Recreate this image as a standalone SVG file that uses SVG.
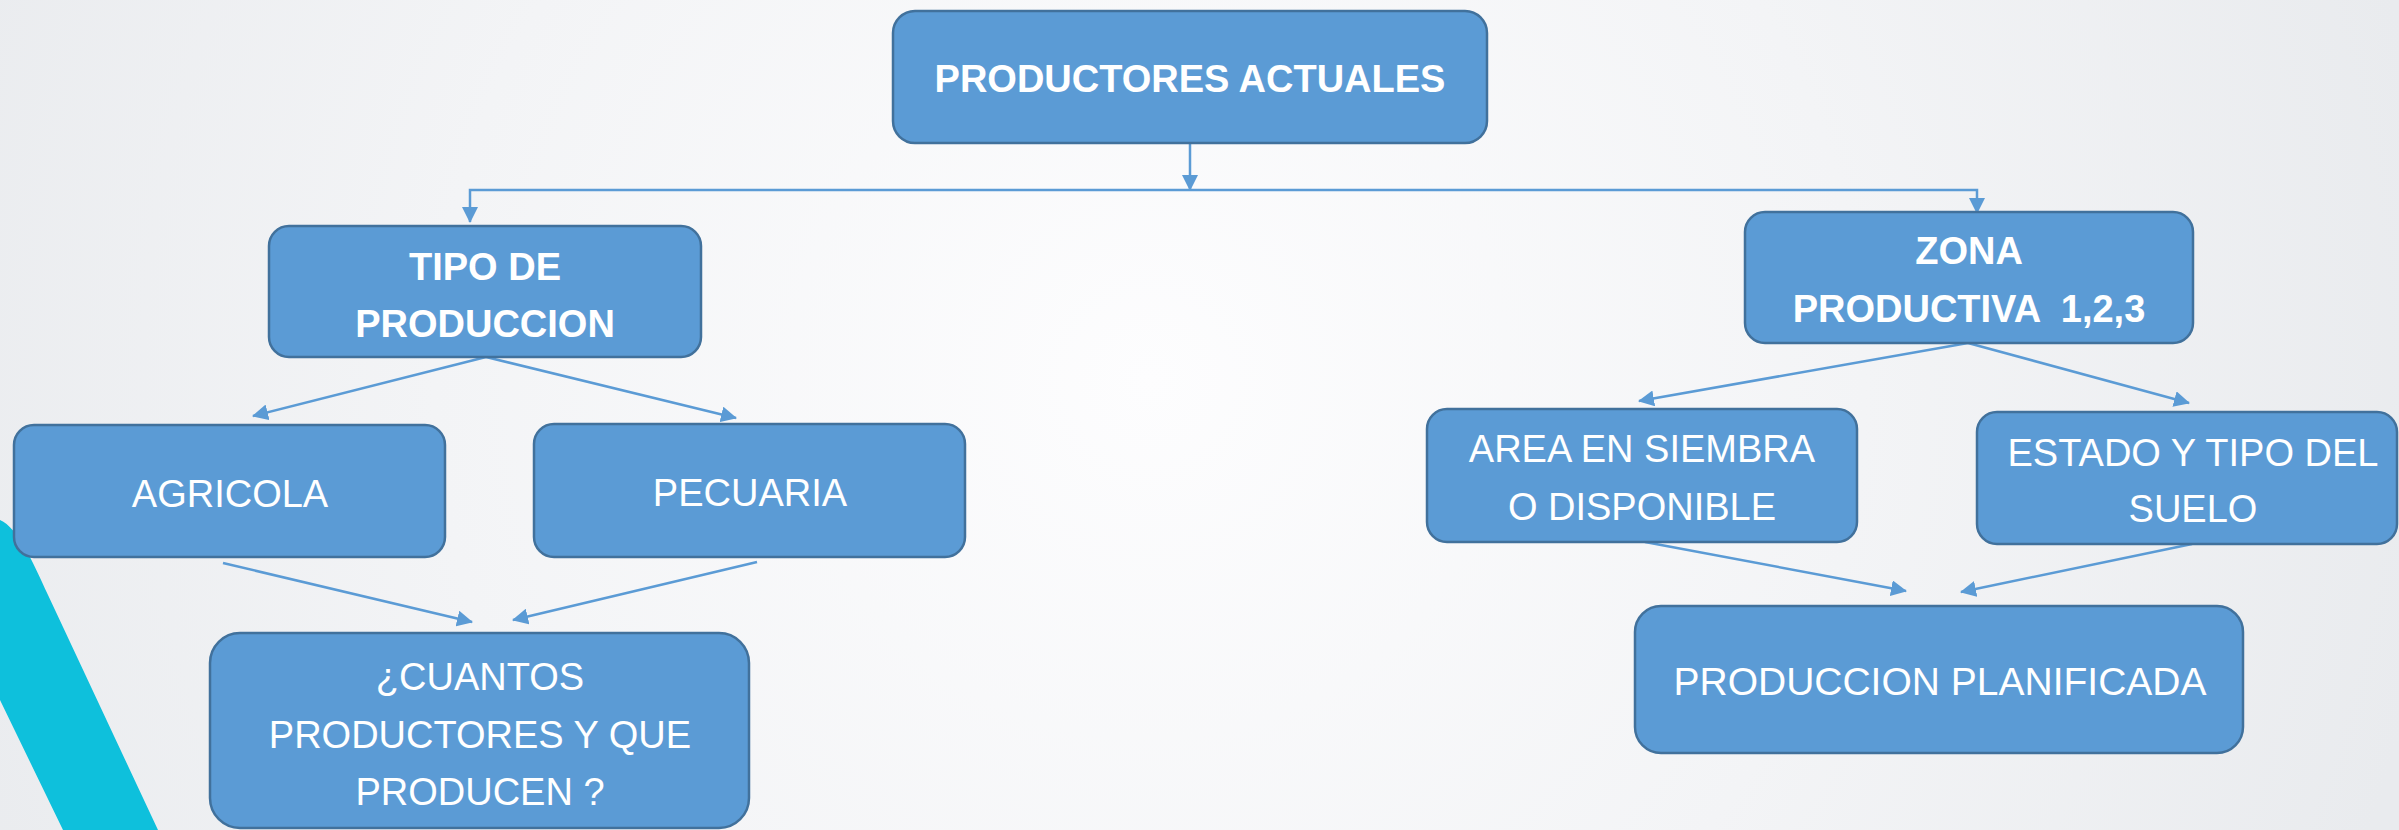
<svg xmlns="http://www.w3.org/2000/svg" width="2399" height="830" viewBox="0 0 2399 830">
<defs>
<radialGradient id="bg" cx="1150" cy="380" r="1300" gradientUnits="userSpaceOnUse">
<stop offset="0" stop-color="#fdfdfe"/>
<stop offset="0.55" stop-color="#f3f4f6"/>
<stop offset="1" stop-color="#e9ebee"/>
</radialGradient>
<marker id="ah" viewBox="0 0 16 16" refX="15" refY="8" markerWidth="16" markerHeight="16" markerUnits="userSpaceOnUse" orient="auto">
<path d="M0,0 L16,8 L0,16 Z" fill="#5b9bd5"/>
</marker>
<style>
.box{fill:#5b9bd5;stroke:#41719c;stroke-width:2.5}
.t{font-family:"Liberation Sans",Arial,sans-serif;font-size:38px;fill:#ffffff;text-anchor:middle;white-space:pre}
.b{font-weight:bold}
.c{fill:none;stroke:#5b9bd5;stroke-width:2.5}
</style>
</defs>
<rect x="0" y="0" width="2399" height="830" fill="url(#bg)"/>
<path d="M0,520 C18,528 32,560 48,595 L158,830 L63,830 L0,700 Z" fill="#0ec0dc"/>

<g id="connectors">
<path class="c" d="M1190,143 L1190,190" marker-end="url(#ah)"/>
<path class="c" d="M1190,190 L470,190 L470,222" marker-end="url(#ah)"/>
<path class="c" d="M1190,190 L1977,190 L1977,213" marker-end="url(#ah)"/>
<path class="c" d="M486,357 L253,416" marker-end="url(#ah)"/>
<path class="c" d="M486,357 L736,418" marker-end="url(#ah)"/>
<path class="c" d="M223,563 L472,622" marker-end="url(#ah)"/>
<path class="c" d="M757,562 L513,620" marker-end="url(#ah)"/>
<path class="c" d="M1968,343 L1639,401" marker-end="url(#ah)"/>
<path class="c" d="M1968,343 L2189,403" marker-end="url(#ah)"/>
<path class="c" d="M1645,542 L1906,591" marker-end="url(#ah)"/>
<path class="c" d="M2192,544 L1961,592" marker-end="url(#ah)"/>
</g>

<g id="productores-actuales">
<rect class="box" x="893" y="11" width="594" height="132" rx="22"/>
<text class="t b" x="1190" y="92">PRODUCTORES ACTUALES</text>
</g>
<g id="tipo-produccion">
<rect class="box" x="269" y="226" width="432" height="131" rx="20"/>
<text class="t b" x="485" y="280">TIPO DE</text>
<text class="t b" x="485" y="337">PRODUCCION</text>
</g>
<g id="agricola">
<rect class="box" x="14" y="425" width="431" height="132" rx="20"/>
<text class="t" x="230" y="507">AGRICOLA</text>
</g>
<g id="pecuaria">
<rect class="box" x="534" y="424" width="431" height="133" rx="20"/>
<text class="t" x="750" y="506">PECUARIA</text>
</g>
<g id="cuantos">
<rect class="box" x="210" y="633" width="539" height="195" rx="30"/>
<text class="t" x="480" y="690">¿CUANTOS</text>
<text class="t" x="480" y="748">PRODUCTORES Y QUE</text>
<text class="t" x="480" y="805">PRODUCEN ?</text>
</g>
<g id="zona-productiva">
<rect class="box" x="1745" y="212" width="448" height="131" rx="20"/>
<text class="t b" x="1969" y="264">ZONA</text>
<text class="t b" x="1969" y="322">PRODUCTIVA  1,2,3</text>
</g>
<g id="area-siembra">
<rect class="box" x="1427" y="409" width="430" height="133" rx="20"/>
<text class="t" x="1642" y="462">AREA EN SIEMBRA</text>
<text class="t" x="1642" y="520">O DISPONIBLE</text>
</g>
<g id="estado-suelo">
<rect class="box" x="1977" y="412" width="420" height="132" rx="20"/>
<text class="t" x="2193" y="466">ESTADO Y TIPO DEL</text>
<text class="t" x="2193" y="522">SUELO</text>
</g>
<g id="produccion-planificada">
<rect class="box" x="1635" y="606" width="608" height="147" rx="26"/>
<text class="t" x="1940" y="695" style="font-size:39px">PRODUCCION PLANIFICADA</text>
</g>
</svg>
